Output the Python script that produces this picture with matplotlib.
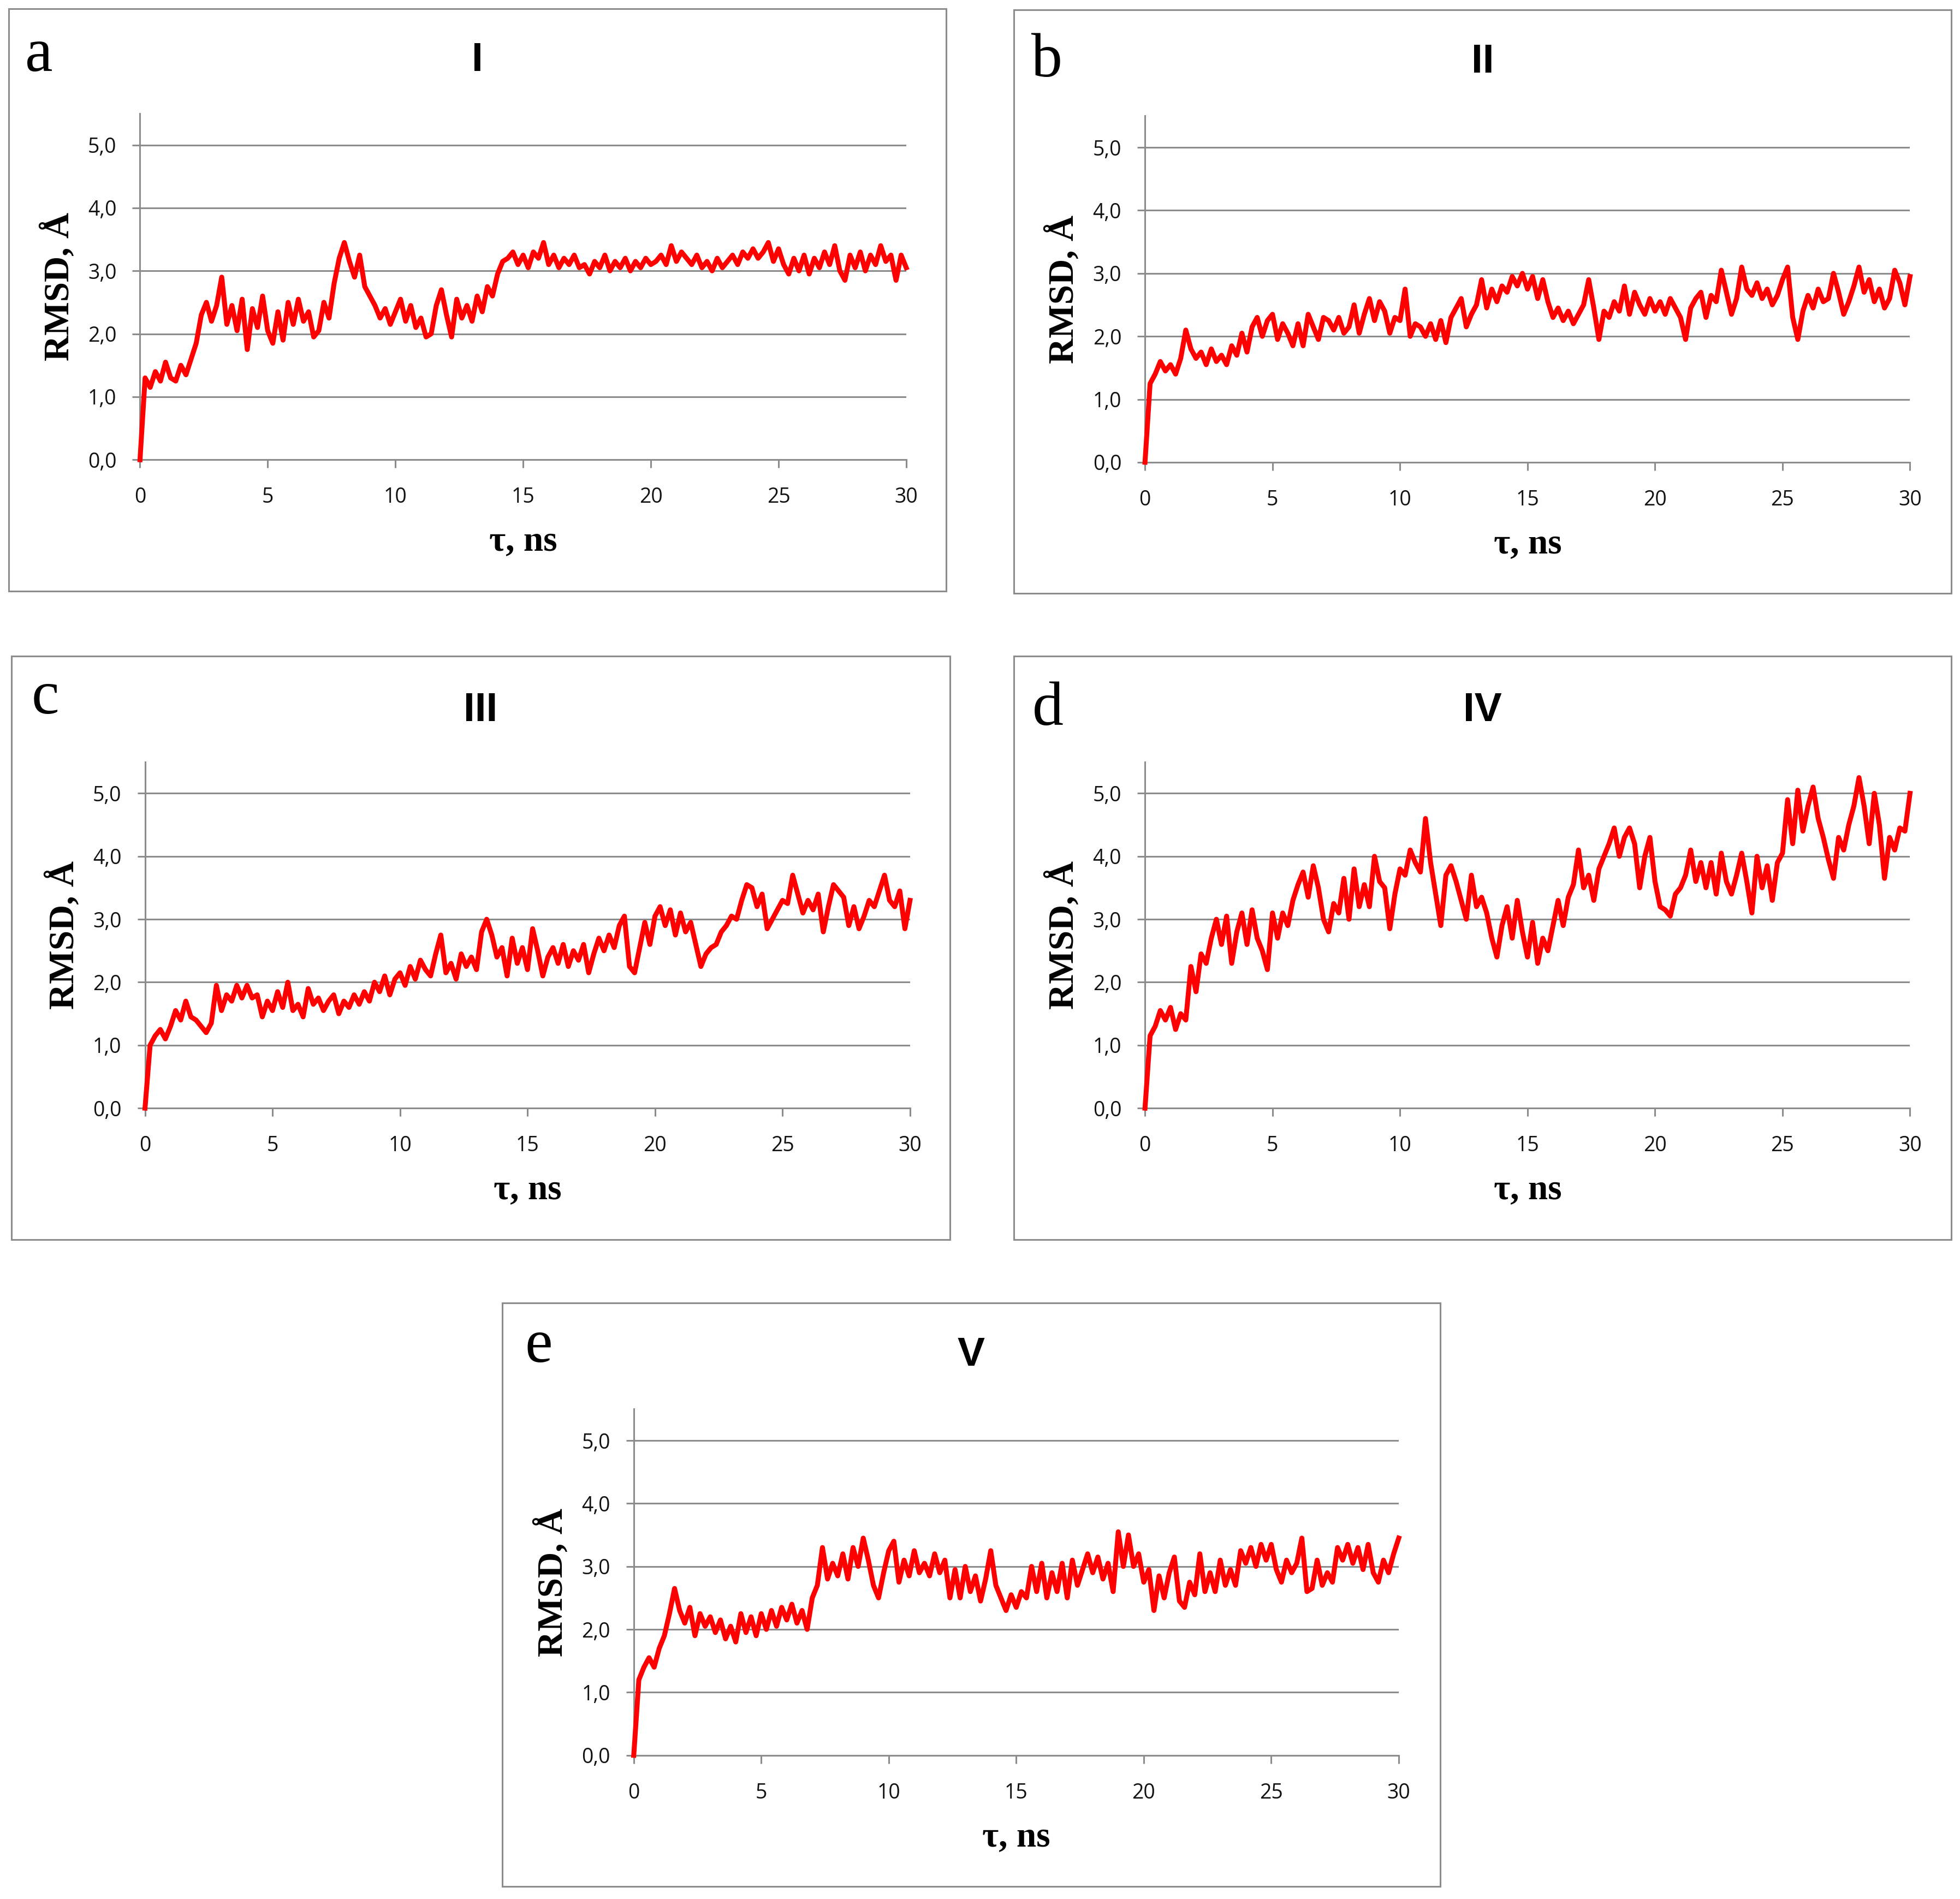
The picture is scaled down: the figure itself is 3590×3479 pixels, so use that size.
import numpy as np
import matplotlib
matplotlib.use("Agg")
import matplotlib.pyplot as plt
from matplotlib.patches import Rectangle

# time axis: one sample every 0.2 ns from 0 to 30 ns
time_ns = np.round(np.arange(151) * 0.2, 1)

panel_letters = ['a', 'b', 'c', 'd', 'e']
panel_titles = ['I', 'II', 'III', 'IV', 'V']
x_ticks = [0, 5, 10, 15, 20, 25, 30]
y_ticks = [0, 1, 2, 3, 4, 5]
y_tick_labels = ['0,0', '1,0', '2,0', '3,0', '4,0', '5,0']
x_label = 'τ, ns'
y_label = 'RMSD, Å'

# RMSD values (Å)
rmsd_I = [
    0.00, 1.30, 1.15, 1.40, 1.25, 1.55, 1.30, 1.25, 1.50, 1.35,
    1.60, 1.85, 2.30, 2.50, 2.20, 2.45, 2.90, 2.15, 2.45, 2.05,
    2.55, 1.75, 2.40, 2.10, 2.60, 2.05, 1.85, 2.35, 1.90, 2.50,
    2.15, 2.55, 2.20, 2.35, 1.95, 2.05, 2.50, 2.25, 2.80, 3.20,
    3.45, 3.15, 2.90, 3.25, 2.75, 2.60, 2.45, 2.25, 2.40, 2.15,
    2.35, 2.55, 2.20, 2.45, 2.10, 2.25, 1.95, 2.00, 2.45, 2.70,
    2.30, 1.95, 2.55, 2.25, 2.45, 2.20, 2.60, 2.35, 2.75, 2.60,
    2.95, 3.15, 3.20, 3.30, 3.10, 3.25, 3.05, 3.30, 3.20, 3.45,
    3.10, 3.25, 3.05, 3.20, 3.10, 3.25, 3.05, 3.10, 2.95, 3.15,
    3.05, 3.25, 3.00, 3.15, 3.05, 3.20, 3.00, 3.15, 3.05, 3.20,
    3.10, 3.15, 3.25, 3.10, 3.40, 3.15, 3.30, 3.20, 3.10, 3.25,
    3.05, 3.15, 3.00, 3.20, 3.05, 3.15, 3.25, 3.10, 3.30, 3.20,
    3.35, 3.20, 3.30, 3.45, 3.15, 3.35, 3.10, 2.95, 3.20, 3.00,
    3.25, 2.95, 3.20, 3.05, 3.30, 3.10, 3.40, 3.00, 2.85, 3.25,
    3.05, 3.30, 3.00, 3.25, 3.10, 3.40, 3.15, 3.25, 2.85, 3.25,
    3.05]

rmsd_II = [
    0.00, 1.25, 1.40, 1.60, 1.45, 1.55, 1.40, 1.65, 2.10, 1.80,
    1.65, 1.75, 1.55, 1.80, 1.60, 1.70, 1.55, 1.85, 1.70, 2.05,
    1.75, 2.15, 2.30, 2.00, 2.25, 2.35, 1.95, 2.20, 2.05, 1.85,
    2.20, 1.85, 2.35, 2.15, 1.95, 2.30, 2.25, 2.10, 2.30, 2.05,
    2.15, 2.50, 2.05, 2.35, 2.60, 2.25, 2.55, 2.40, 2.05, 2.30,
    2.25, 2.75, 2.00, 2.20, 2.15, 2.00, 2.20, 1.95, 2.25, 1.90,
    2.30, 2.45, 2.60, 2.15, 2.35, 2.50, 2.90, 2.45, 2.75, 2.55,
    2.80, 2.70, 2.95, 2.80, 3.00, 2.75, 2.95, 2.60, 2.90, 2.55,
    2.30, 2.45, 2.25, 2.40, 2.20, 2.35, 2.50, 2.90, 2.45, 1.95,
    2.40, 2.30, 2.55, 2.40, 2.80, 2.35, 2.70, 2.50, 2.35, 2.60,
    2.40, 2.55, 2.35, 2.60, 2.45, 2.30, 1.95, 2.45, 2.60, 2.70,
    2.30, 2.65, 2.55, 3.05, 2.70, 2.35, 2.60, 3.10, 2.75, 2.65,
    2.85, 2.60, 2.75, 2.50, 2.65, 2.90, 3.10, 2.30, 1.95, 2.40,
    2.65, 2.45, 2.75, 2.55, 2.60, 3.00, 2.70, 2.35, 2.55, 2.80,
    3.10, 2.70, 2.90, 2.55, 2.75, 2.45, 2.60, 3.05, 2.85, 2.50,
    2.95]

rmsd_III = [
    0.00, 1.00, 1.15, 1.25, 1.10, 1.30, 1.55, 1.40, 1.70, 1.45,
    1.40, 1.30, 1.20, 1.35, 1.95, 1.55, 1.80, 1.70, 1.95, 1.75,
    1.95, 1.75, 1.80, 1.45, 1.70, 1.55, 1.85, 1.60, 2.00, 1.55,
    1.65, 1.45, 1.90, 1.65, 1.75, 1.55, 1.70, 1.80, 1.50, 1.70,
    1.60, 1.80, 1.65, 1.85, 1.70, 2.00, 1.85, 2.10, 1.80, 2.05,
    2.15, 1.95, 2.25, 2.05, 2.35, 2.20, 2.10, 2.45, 2.75, 2.15,
    2.30, 2.05, 2.45, 2.25, 2.40, 2.20, 2.80, 3.00, 2.75, 2.40,
    2.55, 2.10, 2.70, 2.30, 2.55, 2.20, 2.85, 2.50, 2.10, 2.40,
    2.55, 2.30, 2.60, 2.25, 2.50, 2.35, 2.60, 2.15, 2.45, 2.70,
    2.50, 2.75, 2.55, 2.90, 3.05, 2.25, 2.15, 2.55, 2.95, 2.60,
    3.05, 3.20, 2.90, 3.15, 2.75, 3.10, 2.80, 2.95, 2.60, 2.25,
    2.45, 2.55, 2.60, 2.80, 2.90, 3.05, 3.00, 3.30, 3.55, 3.50,
    3.20, 3.40, 2.85, 3.00, 3.15, 3.30, 3.25, 3.70, 3.40, 3.10,
    3.30, 3.15, 3.40, 2.80, 3.20, 3.55, 3.45, 3.35, 2.90, 3.20,
    2.85, 3.05, 3.30, 3.20, 3.45, 3.70, 3.30, 3.20, 3.45, 2.85,
    3.30]

rmsd_IV = [
    0.00, 1.15, 1.30, 1.55, 1.40, 1.60, 1.25, 1.50, 1.40, 2.25,
    1.85, 2.45, 2.30, 2.70, 3.00, 2.60, 3.05, 2.30, 2.80, 3.10,
    2.60, 3.15, 2.70, 2.50, 2.20, 3.10, 2.70, 3.10, 2.90, 3.30,
    3.55, 3.75, 3.35, 3.85, 3.50, 3.00, 2.80, 3.25, 3.10, 3.65,
    3.00, 3.80, 3.20, 3.55, 3.20, 4.00, 3.60, 3.50, 2.85, 3.40,
    3.80, 3.70, 4.10, 3.90, 3.75, 4.60, 3.90, 3.40, 2.90, 3.70,
    3.85, 3.60, 3.30, 3.00, 3.70, 3.20, 3.35, 3.10, 2.70, 2.40,
    2.90, 3.20, 2.70, 3.30, 2.80, 2.40, 2.95, 2.30, 2.70, 2.50,
    2.90, 3.30, 2.90, 3.35, 3.55, 4.10, 3.50, 3.70, 3.30, 3.80,
    4.00, 4.20, 4.45, 4.00, 4.30, 4.45, 4.20, 3.50, 4.00, 4.30,
    3.60, 3.20, 3.15, 3.05, 3.40, 3.50, 3.70, 4.10, 3.60, 3.90,
    3.50, 3.90, 3.40, 4.05, 3.60, 3.40, 3.70, 4.05, 3.60, 3.10,
    4.00, 3.50, 3.85, 3.30, 3.90, 4.05, 4.90, 4.20, 5.05, 4.40,
    4.80, 5.10, 4.60, 4.30, 3.95, 3.65, 4.30, 4.10, 4.50, 4.80,
    5.25, 4.80, 4.20, 5.00, 4.50, 3.65, 4.30, 4.10, 4.45, 4.40,
    5.00]

rmsd_V = [
    0.00, 1.20, 1.40, 1.55, 1.40, 1.70, 1.90, 2.25, 2.65, 2.30,
    2.10, 2.35, 1.90, 2.25, 2.05, 2.20, 1.95, 2.15, 1.85, 2.05,
    1.80, 2.25, 1.95, 2.20, 1.90, 2.25, 2.00, 2.30, 2.05, 2.35,
    2.15, 2.40, 2.10, 2.30, 2.00, 2.50, 2.70, 3.30, 2.80, 3.05,
    2.85, 3.20, 2.80, 3.30, 3.00, 3.45, 3.10, 2.70, 2.50, 2.90,
    3.25, 3.40, 2.75, 3.10, 2.85, 3.25, 2.90, 3.05, 2.85, 3.20,
    2.90, 3.10, 2.50, 2.95, 2.50, 3.00, 2.60, 2.85, 2.45, 2.80,
    3.25, 2.70, 2.50, 2.30, 2.55, 2.35, 2.60, 2.50, 3.00, 2.60,
    3.05, 2.50, 2.90, 2.60, 3.05, 2.50, 3.10, 2.70, 2.95, 3.20,
    2.90, 3.15, 2.80, 3.05, 2.60, 3.55, 3.00, 3.50, 3.00, 3.20,
    2.75, 2.95, 2.30, 2.85, 2.50, 2.90, 3.15, 2.45, 2.35, 2.75,
    2.55, 3.20, 2.60, 2.90, 2.60, 3.10, 2.70, 2.95, 2.70, 3.25,
    3.05, 3.30, 3.00, 3.35, 3.10, 3.35, 2.95, 2.75, 3.10, 2.90,
    3.05, 3.45, 2.60, 2.65, 3.10, 2.70, 2.90, 2.75, 3.30, 3.10,
    3.35, 3.05, 3.30, 2.95, 3.35, 2.90, 2.75, 3.10, 2.90, 3.20,
    3.45]

series = [rmsd_I, rmsd_II, rmsd_III, rmsd_IV, rmsd_V]

# layout in reference pixels (1568 x 1520 preview)
W, H = 1568.0, 1520.0
# (box x0, y0, x1, y1), (axes x0, x1, y of zero line), letter pos, title baseline
frames = [
    ((7, 7, 757, 473), (112, 725, 368), (20, 57), 57),
    ((811, 8, 1561, 475), (916, 1528, 370), (825, 61), 58),
    ((9, 525, 760, 992), (116, 728, 887), (25, 571), 577),
    ((811, 525, 1561, 992), (916, 1528, 887), (826, 580), 577),
    ((402, 1043, 1152, 1510), (507, 1119, 1405), (420, 1090), 1093),
]
plot_h = 277.2  # 5.5 units * 50.4 px

grey = '#8c8c8c'
tick_font = ['Open Sans', 'DejaVu Sans']

fig = plt.figure(figsize=(35.9, 34.79), dpi=100)
fig.patch.set_facecolor('white')

for vals, letter, title, frame in zip(series, panel_letters, panel_titles, frames):
    (bx0, by0, bx1, by1), (ax0, ax1, ay0), (lx, ly), ty = frame

    fig.add_artist(Rectangle((bx0 / W, 1 - by1 / H), (bx1 - bx0) / W, (by1 - by0) / H,
                             transform=fig.transFigure, fill=False,
                             edgecolor=grey, linewidth=2.2))

    ax = fig.add_axes([ax0 / W, 1 - ay0 / H, (ax1 - ax0) / W, plot_h / H])
    ax.plot(time_ns, vals, color='#ff0000', linewidth=6.5, zorder=3, clip_on=False)
    ax.set_xlim(0, 30)
    ax.set_ylim(0, 5.5)
    ax.set_xticks(x_ticks)
    ax.set_xticklabels([str(t) for t in x_ticks], fontfamily=tick_font, fontsize=27)
    ax.set_yticks(y_ticks)
    ax.set_yticklabels(y_tick_labels, fontfamily=tick_font, fontsize=27)
    ax.grid(axis='y', color=grey, linewidth=2.2, zorder=1)
    ax.set_axisbelow(True)
    for side in ['top', 'right']:
        ax.spines[side].set_visible(False)
    for side in ['left', 'bottom']:
        ax.spines[side].set_color(grey)
        ax.spines[side].set_linewidth(2.2)
    ax.tick_params(axis='x', length=11, width=2.2, color=grey, pad=25, labelcolor='#111111')
    ax.tick_params(axis='y', length=10, width=2.2, color=grey, pad=21, labelcolor='#111111')

    cx = (bx0 + bx1) / 2 / W
    fig.text(cx, 1 - ty / H, title, ha='center', va='baseline',
             fontfamily='Liberation Sans', fontweight='bold', fontsize=54)
    fig.text(lx / W, 1 - ly / H, letter, ha='left', va='baseline',
             fontfamily='Liberation Serif', fontsize=82)
    fig.text((ax0 + ax1) / 2 / W, 1 - (ay0 + 73) / H, x_label, ha='center', va='baseline',
             fontfamily='Liberation Serif', fontweight='bold', fontsize=47)
    fig.text((ax0 - 65) / W, 1 - (ay0 - plot_h / 2) / H, y_label, ha='center', va='center',
             rotation=90, fontfamily='Liberation Serif', fontweight='bold', fontsize=47)

fig.savefig('out.png', dpi=100, facecolor='white')
